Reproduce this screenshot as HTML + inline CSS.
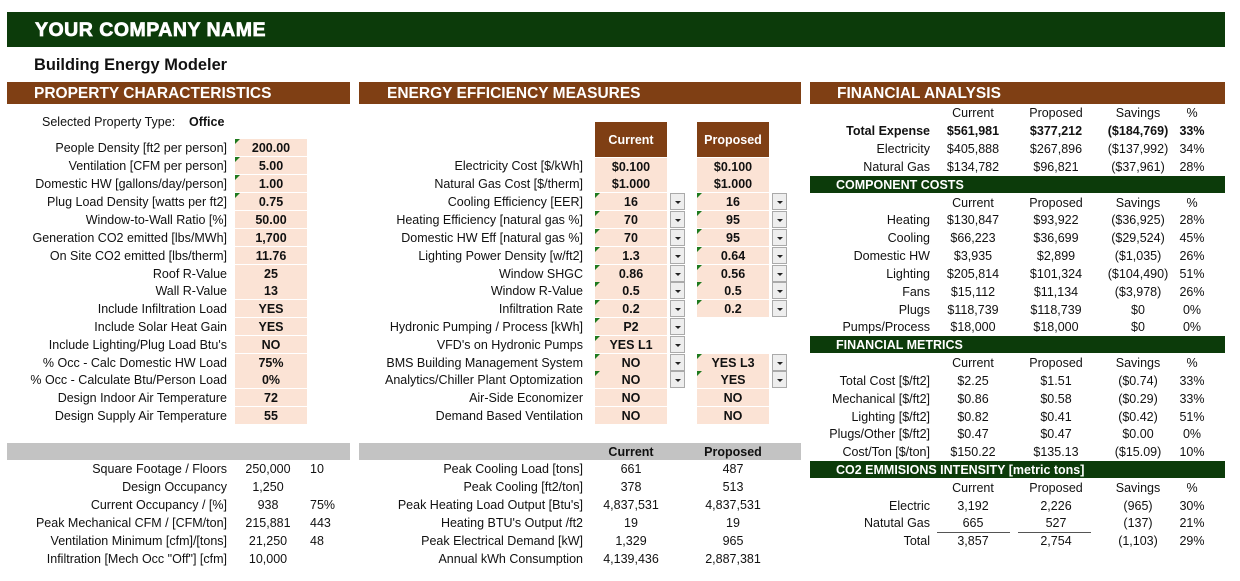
<!DOCTYPE html>
<html><head><meta charset="utf-8"><style>
body{margin:0;width:1240px;height:581px;background:#fff;position:relative;overflow:hidden;font-family:"Liberation Sans",Arial,sans-serif;font-size:12.5px;color:#111}
.t{position:absolute;height:18px;line-height:19px;white-space:nowrap}
.L{left:0;width:227px;text-align:right}
.M{left:300px;width:283px;text-align:right}
.R{left:780px;width:150px;text-align:right}
.in{position:absolute;height:17px;line-height:18px;background:#fbe3d5;text-align:center;font-weight:bold;width:72px}
.in.g::before{content:"";position:absolute;left:0;top:0;border-top:5px solid #1e7a1e;border-right:5px solid transparent}
.dd{position:absolute;width:13px;height:15px;background:#eee;border:1px solid #aaa}
.dd::after{content:"";position:absolute;left:4px;top:7px;border-top:3px solid #222;border-left:3px solid transparent;border-right:3px solid transparent}
.bar{position:absolute;background:#7f3f14;color:#fff;font-weight:bold;font-size:15.5px;height:22px;line-height:23px}
.gb{position:absolute;left:810px;width:415px;height:17px;line-height:18px;background:#0c3b0a;color:#fff;font-weight:bold;font-size:12.5px;padding-left:26px;box-sizing:border-box}
.c{text-align:center}
.c1{left:933px;width:80px;text-align:center}
.c2{left:1016px;width:80px;text-align:center}
.c3{left:1096px;width:84px;text-align:center}
.c4{left:1172px;width:40px;text-align:center}
</style></head><body>
<div style="position:absolute;left:7px;top:12px;width:1218px;height:35px;background:#0c3b0a"></div>
<div class="t" style="left:35px;top:18px;height:24px;line-height:24px;color:#fff;font-weight:bold;font-size:19.5px;letter-spacing:0.5px;-webkit-text-stroke:0.7px #fff">YOUR COMPANY NAME</div>
<div class="t" style="left:34px;top:55px;font-weight:bold;font-size:16.4px;height:20px;line-height:21px">Building Energy Modeler</div>
<div class="bar" style="left:7px;top:82px;width:343px;padding-left:27px;box-sizing:border-box">PROPERTY CHARACTERISTICS</div>
<div class="bar" style="left:359px;top:82px;width:442px;padding-left:28px;box-sizing:border-box">ENERGY EFFICIENCY MEASURES</div>
<div class="bar" style="left:810px;top:82px;width:415px;padding-left:27px;box-sizing:border-box">FINANCIAL ANALYSIS</div>

<div class="t" style="left:42px;top:113px">Selected Property Type:</div>
<div class="t" style="left:189px;top:113px;font-weight:bold">Office</div>
<div class="t L" style="top:139px">People Density [ft2 per person]</div><div class="in g" style="left:235px;top:139px">200.00</div>
<div class="t L" style="top:157px">Ventilation [CFM per person]</div><div class="in g" style="left:235px;top:157px">5.00</div>
<div class="t L" style="top:175px">Domestic HW [gallons/day/person]</div><div class="in g" style="left:235px;top:175px">1.00</div>
<div class="t L" style="top:193px">Plug Load Density [watts per ft2]</div><div class="in g" style="left:235px;top:193px">0.75</div>
<div class="t L" style="top:211px">Window-to-Wall Ratio [%]</div><div class="in" style="left:235px;top:211px">50.00</div>
<div class="t L" style="top:229px">Generation CO2 emitted [lbs/MWh]</div><div class="in" style="left:235px;top:229px">1,700</div>
<div class="t L" style="top:247px">On Site CO2 emitted [lbs/therm]</div><div class="in" style="left:235px;top:247px">11.76</div>
<div class="t L" style="top:265px">Roof R-Value</div><div class="in" style="left:235px;top:265px">25</div>
<div class="t L" style="top:282px">Wall R-Value</div><div class="in" style="left:235px;top:282px">13</div>
<div class="t L" style="top:300px">Include Infiltration Load</div><div class="in" style="left:235px;top:300px">YES</div>
<div class="t L" style="top:318px">Include Solar Heat Gain</div><div class="in" style="left:235px;top:318px">YES</div>
<div class="t L" style="top:336px">Include Lighting/Plug Load Btu's</div><div class="in" style="left:235px;top:336px">NO</div>
<div class="t L" style="top:354px">% Occ - Calc Domestic HW Load</div><div class="in" style="left:235px;top:354px">75%</div>
<div class="t L" style="top:371px">% Occ - Calculate Btu/Person Load</div><div class="in" style="left:235px;top:371px">0%</div>
<div class="t L" style="top:389px">Design Indoor Air Temperature</div><div class="in" style="left:235px;top:389px">72</div>
<div class="t L" style="top:407px">Design Supply Air Temperature</div><div class="in" style="left:235px;top:407px">55</div>

<div style="position:absolute;left:595px;top:122px;width:72px;height:35px;background:#7f3f14;color:#fff;font-weight:bold;text-align:center;line-height:36px">Current</div>
<div style="position:absolute;left:697px;top:122px;width:72px;height:35px;background:#7f3f14;color:#fff;font-weight:bold;text-align:center;line-height:36px">Proposed</div>
<div class="t M" style="top:157px">Electricity Cost [$/kWh]</div><div class="in" style="left:595px;top:158px">$0.100</div><div class="in" style="left:697px;top:158px">$0.100</div>
<div class="t M" style="top:175px">Natural Gas Cost [$/therm]</div><div class="in" style="left:595px;top:175px">$1.000</div><div class="in" style="left:697px;top:175px">$1.000</div>
<div class="t M" style="top:193px">Cooling Efficiency [EER]</div><div class="in g" style="left:595px;top:193px">16</div><div class="dd" style="left:670px;top:193px"></div><div class="in g" style="left:697px;top:193px">16</div><div class="dd" style="left:772px;top:193px"></div>
<div class="t M" style="top:211px">Heating Efficiency [natural gas %]</div><div class="in g" style="left:595px;top:211px">70</div><div class="dd" style="left:670px;top:211px"></div><div class="in g" style="left:697px;top:211px">95</div><div class="dd" style="left:772px;top:211px"></div>
<div class="t M" style="top:229px">Domestic HW Eff [natural gas %]</div><div class="in g" style="left:595px;top:229px">70</div><div class="dd" style="left:670px;top:229px"></div><div class="in g" style="left:697px;top:229px">95</div><div class="dd" style="left:772px;top:229px"></div>
<div class="t M" style="top:247px">Lighting Power Density [w/ft2]</div><div class="in g" style="left:595px;top:247px">1.3</div><div class="dd" style="left:670px;top:247px"></div><div class="in g" style="left:697px;top:247px">0.64</div><div class="dd" style="left:772px;top:247px"></div>
<div class="t M" style="top:265px">Window SHGC</div><div class="in g" style="left:595px;top:265px">0.86</div><div class="dd" style="left:670px;top:265px"></div><div class="in g" style="left:697px;top:265px">0.56</div><div class="dd" style="left:772px;top:265px"></div>
<div class="t M" style="top:282px">Window R-Value</div><div class="in g" style="left:595px;top:282px">0.5</div><div class="dd" style="left:670px;top:282px"></div><div class="in g" style="left:697px;top:282px">0.5</div><div class="dd" style="left:772px;top:282px"></div>
<div class="t M" style="top:300px">Infiltration Rate</div><div class="in g" style="left:595px;top:300px">0.2</div><div class="dd" style="left:670px;top:300px"></div><div class="in g" style="left:697px;top:300px">0.2</div><div class="dd" style="left:772px;top:300px"></div>
<div class="t M" style="top:318px">Hydronic Pumping / Process [kWh]</div><div class="in g" style="left:595px;top:318px">P2</div><div class="dd" style="left:670px;top:318px"></div>
<div class="t M" style="top:336px">VFD's on Hydronic Pumps</div><div class="in g" style="left:595px;top:336px">YES L1</div><div class="dd" style="left:670px;top:336px"></div>
<div class="t M" style="top:354px">BMS Building Management System</div><div class="in g" style="left:595px;top:354px">NO</div><div class="dd" style="left:670px;top:354px"></div><div class="in g" style="left:697px;top:354px">YES L3</div><div class="dd" style="left:772px;top:354px"></div>
<div class="t M" style="top:371px">Analytics/Chiller Plant Optomization</div><div class="in g" style="left:595px;top:371px">NO</div><div class="dd" style="left:670px;top:371px"></div><div class="in g" style="left:697px;top:371px">YES</div><div class="dd" style="left:772px;top:371px"></div>
<div class="t M" style="top:389px">Air-Side Economizer</div><div class="in" style="left:595px;top:389px">NO</div><div class="in" style="left:697px;top:389px">NO</div>
<div class="t M" style="top:407px">Demand Based Ventilation</div><div class="in" style="left:595px;top:407px">NO</div><div class="in" style="left:697px;top:407px">NO</div>

<div style="position:absolute;left:7px;top:443px;width:343px;height:17px;background:#c3c3c3"></div>
<div style="position:absolute;left:359px;top:443px;width:442px;height:17px;background:#c3c3c3"></div>
<div class="t c" style="left:595px;width:72px;top:443px;font-weight:bold">Current</div>
<div class="t c" style="left:697px;width:72px;top:443px;font-weight:bold">Proposed</div>

<div class="t L" style="top:460px">Square Footage / Floors</div><div class="t c" style="left:232px;width:72px;top:460px">250,000</div><div class="t" style="left:310px;top:460px">10</div>
<div class="t L" style="top:478px">Design Occupancy</div><div class="t c" style="left:232px;width:72px;top:478px">1,250</div>
<div class="t L" style="top:496px">Current Occupancy / [%]</div><div class="t c" style="left:232px;width:72px;top:496px">938</div><div class="t" style="left:310px;top:496px">75%</div>
<div class="t L" style="top:514px">Peak Mechanical CFM / [CFM/ton]</div><div class="t c" style="left:232px;width:72px;top:514px">215,881</div><div class="t" style="left:310px;top:514px">443</div>
<div class="t L" style="top:532px">Ventilation Minimum [cfm]/[tons]</div><div class="t c" style="left:232px;width:72px;top:532px">21,250</div><div class="t" style="left:310px;top:532px">48</div>
<div class="t L" style="top:550px">Infiltration [Mech Occ "Off"] [cfm]</div><div class="t c" style="left:232px;width:72px;top:550px">10,000</div>

<div class="t M" style="top:460px">Peak Cooling Load [tons]</div><div class="t c" style="left:595px;width:72px;top:460px">661</div><div class="t c" style="left:697px;width:72px;top:460px">487</div>
<div class="t M" style="top:478px">Peak Cooling [ft2/ton]</div><div class="t c" style="left:595px;width:72px;top:478px">378</div><div class="t c" style="left:697px;width:72px;top:478px">513</div>
<div class="t M" style="top:496px">Peak Heating Load Output [Btu's]</div><div class="t c" style="left:595px;width:72px;top:496px">4,837,531</div><div class="t c" style="left:697px;width:72px;top:496px">4,837,531</div>
<div class="t M" style="top:514px">Heating BTU's Output /ft2</div><div class="t c" style="left:595px;width:72px;top:514px">19</div><div class="t c" style="left:697px;width:72px;top:514px">19</div>
<div class="t M" style="top:532px">Peak Electrical Demand [kW]</div><div class="t c" style="left:595px;width:72px;top:532px">1,329</div><div class="t c" style="left:697px;width:72px;top:532px">965</div>
<div class="t M" style="top:550px">Annual kWh Consumption</div><div class="t c" style="left:595px;width:72px;top:550px">4,139,436</div><div class="t c" style="left:697px;width:72px;top:550px">2,887,381</div>

<div class="t c1" style="top:104px">Current</div><div class="t c2" style="top:104px">Proposed</div><div class="t c3" style="top:104px">Savings</div><div class="t c4" style="top:104px">%</div>
<div class="t R" style="top:122px;font-weight:bold">Total Expense</div><div class="t c1" style="top:122px;font-weight:bold">$561,981</div><div class="t c2" style="top:122px;font-weight:bold">$377,212</div><div class="t c3" style="top:122px;font-weight:bold">($184,769)</div><div class="t c4" style="top:122px;font-weight:bold">33%</div>
<div class="t R" style="top:140px">Electricity</div><div class="t c1" style="top:140px">$405,888</div><div class="t c2" style="top:140px">$267,896</div><div class="t c3" style="top:140px">($137,992)</div><div class="t c4" style="top:140px">34%</div>
<div class="t R" style="top:158px">Natural Gas</div><div class="t c1" style="top:158px">$134,782</div><div class="t c2" style="top:158px">$96,821</div><div class="t c3" style="top:158px">($37,961)</div><div class="t c4" style="top:158px">28%</div>
<div class="gb" style="top:176px">COMPONENT COSTS</div>
<div class="t c1" style="top:194px">Current</div><div class="t c2" style="top:194px">Proposed</div><div class="t c3" style="top:194px">Savings</div><div class="t c4" style="top:194px">%</div>
<div class="t R" style="top:211px">Heating</div><div class="t c1" style="top:211px">$130,847</div><div class="t c2" style="top:211px">$93,922</div><div class="t c3" style="top:211px">($36,925)</div><div class="t c4" style="top:211px">28%</div>
<div class="t R" style="top:229px">Cooling</div><div class="t c1" style="top:229px">$66,223</div><div class="t c2" style="top:229px">$36,699</div><div class="t c3" style="top:229px">($29,524)</div><div class="t c4" style="top:229px">45%</div>
<div class="t R" style="top:247px">Domestic HW</div><div class="t c1" style="top:247px">$3,935</div><div class="t c2" style="top:247px">$2,899</div><div class="t c3" style="top:247px">($1,035)</div><div class="t c4" style="top:247px">26%</div>
<div class="t R" style="top:265px">Lighting</div><div class="t c1" style="top:265px">$205,814</div><div class="t c2" style="top:265px">$101,324</div><div class="t c3" style="top:265px">($104,490)</div><div class="t c4" style="top:265px">51%</div>
<div class="t R" style="top:283px">Fans</div><div class="t c1" style="top:283px">$15,112</div><div class="t c2" style="top:283px">$11,134</div><div class="t c3" style="top:283px">($3,978)</div><div class="t c4" style="top:283px">26%</div>
<div class="t R" style="top:301px">Plugs</div><div class="t c1" style="top:301px">$118,739</div><div class="t c2" style="top:301px">$118,739</div><div class="t c3" style="top:301px">$0</div><div class="t c4" style="top:301px">0%</div>
<div class="t R" style="top:318px">Pumps/Process</div><div class="t c1" style="top:318px">$18,000</div><div class="t c2" style="top:318px">$18,000</div><div class="t c3" style="top:318px">$0</div><div class="t c4" style="top:318px">0%</div>
<div class="gb" style="top:336px">FINANCIAL METRICS</div>
<div class="t c1" style="top:354px">Current</div><div class="t c2" style="top:354px">Proposed</div><div class="t c3" style="top:354px">Savings</div><div class="t c4" style="top:354px">%</div>
<div class="t R" style="top:372px">Total Cost [$/ft2]</div><div class="t c1" style="top:372px">$2.25</div><div class="t c2" style="top:372px">$1.51</div><div class="t c3" style="top:372px">($0.74)</div><div class="t c4" style="top:372px">33%</div>
<div class="t R" style="top:390px">Mechanical [$/ft2]</div><div class="t c1" style="top:390px">$0.86</div><div class="t c2" style="top:390px">$0.58</div><div class="t c3" style="top:390px">($0.29)</div><div class="t c4" style="top:390px">33%</div>
<div class="t R" style="top:408px">Lighting [$/ft2]</div><div class="t c1" style="top:408px">$0.82</div><div class="t c2" style="top:408px">$0.41</div><div class="t c3" style="top:408px">($0.42)</div><div class="t c4" style="top:408px">51%</div>
<div class="t R" style="top:425px">Plugs/Other [$/ft2]</div><div class="t c1" style="top:425px">$0.47</div><div class="t c2" style="top:425px">$0.47</div><div class="t c3" style="top:425px">$0.00</div><div class="t c4" style="top:425px">0%</div>
<div class="t R" style="top:443px">Cost/Ton [$/ton]</div><div class="t c1" style="top:443px">$150.22</div><div class="t c2" style="top:443px">$135.13</div><div class="t c3" style="top:443px">($15.09)</div><div class="t c4" style="top:443px">10%</div>
<div class="gb" style="top:461px">CO2 EMMISIONS INTENSITY [metric tons]</div>
<div class="t c1" style="top:479px">Current</div><div class="t c2" style="top:479px">Proposed</div><div class="t c3" style="top:479px">Savings</div><div class="t c4" style="top:479px">%</div>
<div class="t R" style="top:497px">Electric</div><div class="t c1" style="top:497px">3,192</div><div class="t c2" style="top:497px">2,226</div><div class="t c3" style="top:497px">(965)</div><div class="t c4" style="top:497px">30%</div>
<div class="t R" style="top:514px">Natutal Gas</div><div class="t c1" style="top:514px">665</div><div class="t c2" style="top:514px">527</div><div class="t c3" style="top:514px">(137)</div><div class="t c4" style="top:514px">21%</div>
<div style="position:absolute;left:937px;top:532px;width:73px;height:1px;background:#555"></div>
<div style="position:absolute;left:1018px;top:532px;width:73px;height:1px;background:#555"></div>
<div class="t R" style="top:532px">Total</div><div class="t c1" style="top:532px">3,857</div><div class="t c2" style="top:532px">2,754</div><div class="t c3" style="top:532px">(1,103)</div><div class="t c4" style="top:532px">29%</div>
</body></html>
